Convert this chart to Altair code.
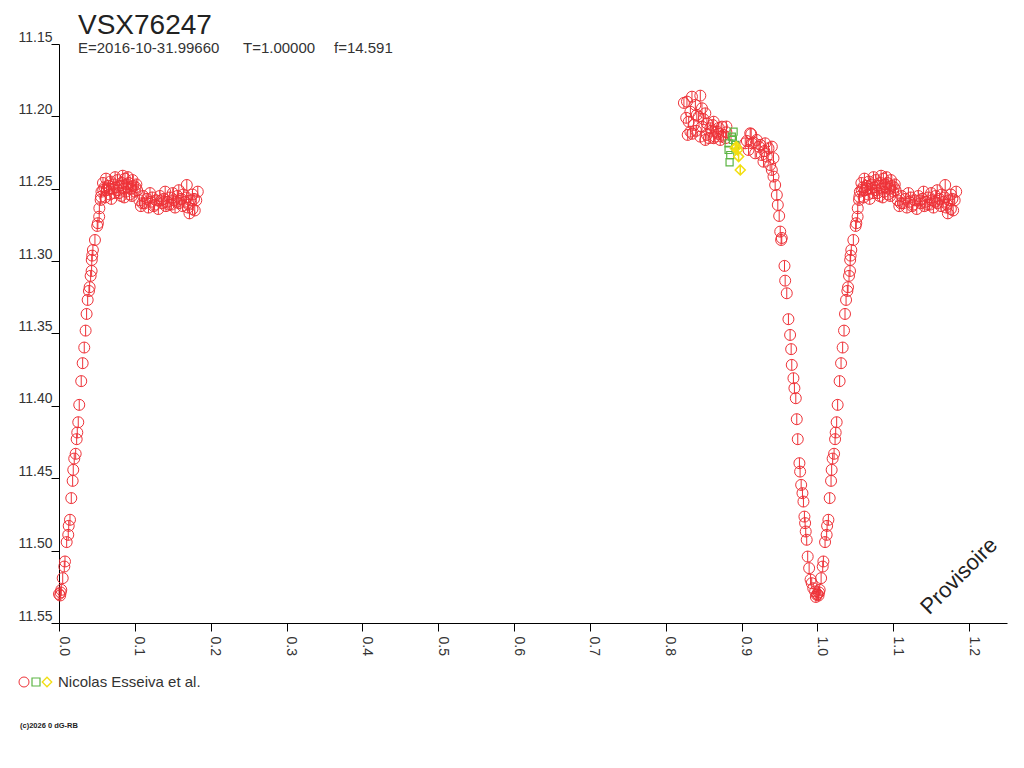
import altair as alt
import pandas as pd

# ---- data (phase, magnitude) ----
red_phase = [
    # ascending branch after minimum
    0.0000, 0.0015, 0.0022, 0.0030, 0.0049, 0.0070, 0.0079, 0.0101, 0.0122, 0.0128,
    0.0145, 0.0162, 0.0180, 0.0188, 0.0201, 0.0220, 0.0233, 0.0241, 0.0254, 0.0267,
    0.0293, 0.0312, 0.0333, 0.0351, 0.0364, 0.0378, 0.0395, 0.0404, 0.0417, 0.0430,
    0.0432, 0.0438, 0.0447, 0.0474, 0.0504, 0.0513, 0.0530, 0.0532, 0.0549, 0.0553,
    0.0583,
    # first plateau
    0.056, 0.058, 0.060, 0.062, 0.063, 0.065, 0.067, 0.068, 0.070, 0.072,
    0.073, 0.075, 0.077, 0.078, 0.080, 0.082, 0.083, 0.085, 0.087, 0.088,
    0.090, 0.092, 0.093, 0.095, 0.097, 0.098, 0.100, 0.102, 0.103, 0.061,
    0.069, 0.079, 0.086, 0.091, 0.096, 0.084, 0.074, 0.066, 0.089, 0.101,
    # second plateau
    0.106, 0.108, 0.111, 0.113, 0.116, 0.118, 0.121, 0.123, 0.126, 0.128,
    0.131, 0.133, 0.136, 0.138, 0.141, 0.143, 0.146, 0.148, 0.151, 0.153,
    0.156, 0.158, 0.161, 0.163, 0.166, 0.168, 0.171, 0.173, 0.176, 0.178,
    0.1685, 0.150, 0.172, 0.179, 0.183, 0.176, 0.140, 0.120, 0.164, 0.158,
    0.110, 0.125, 0.135, 0.145, 0.155, 0.170, 0.181,
    # maximum before the eclipse
    0.8240, 0.8280, 0.8290, 0.8346, 0.8456, 0.8325, 0.8391, 0.8478, 0.8522, 0.8434,
    0.8303, 0.8368, 0.8325, 0.8478, 0.8543, 0.8588, 0.8632, 0.8675, 0.8741, 0.8763,
    0.8543, 0.8456, 0.8632, 0.8719, 0.8522, 0.8410, 0.8500, 0.8600, 0.8700, 0.8800,
    0.8790, 0.8650, 0.8570, 0.8400, 0.8350, 0.8800, 0.8740, 0.8270, 0.8620, 0.8690,
    0.9114, 0.9049, 0.9136, 0.9201, 0.9246, 0.9311, 0.9355, 0.9399, 0.9092, 0.9180,
    0.9267, 0.9333, 0.9421, 0.9289, 0.9377, 0.9127, 0.9160, 0.9230, 0.9300, 0.9070,
    # descending branch
    0.9399, 0.9421, 0.9443, 0.9465, 0.9478, 0.9496, 0.9510, 0.9522, 0.9530, 0.9566,
    0.9575, 0.9596, 0.9618, 0.9640, 0.9654, 0.9662, 0.9684, 0.9697, 0.9715, 0.9728,
    0.9741, 0.9763, 0.9772, 0.9786, 0.9803, 0.9816, 0.9829, 0.9838, 0.9846, 0.9859,
    0.9872, 0.9891, 0.9910, 0.9925, 0.9945, 0.9970, 0.9991, 0.9980,
]
red_mag = [
    11.5300, 11.5310, 11.5289, 11.5271, 11.5190, 11.5110, 11.5075, 11.4941, 11.4891, 11.4829,
    11.4787, 11.4637, 11.4518, 11.4442, 11.4364, 11.4331, 11.4230, 11.4184, 11.4113, 11.3993,
    11.3829, 11.3705, 11.3597, 11.3480, 11.3365, 11.3268, 11.3206, 11.3180, 11.3102, 11.3068,
    11.2992, 11.2962, 11.2923, 11.2854, 11.2757, 11.2738, 11.2693, 11.2635, 11.2577, 11.2555,
    11.2508,
    11.252, 11.246, 11.249, 11.243, 11.251, 11.248, 11.254, 11.245, 11.250, 11.247,
    11.253, 11.249, 11.244, 11.251, 11.248, 11.255, 11.246, 11.250, 11.243, 11.252,
    11.249, 11.246, 11.254, 11.250, 11.244, 11.248, 11.252, 11.247, 11.251, 11.256,
    11.257, 11.253, 11.256, 11.242, 11.255, 11.241, 11.242, 11.250, 11.247, 11.249,
    11.258, 11.262, 11.255, 11.260, 11.257, 11.263, 11.259, 11.256, 11.261, 11.258,
    11.264, 11.255, 11.260, 11.257, 11.262, 11.259, 11.256, 11.261, 11.258, 11.263,
    11.255, 11.260, 11.257, 11.262, 11.259, 11.256, 11.261, 11.258, 11.264, 11.257,
    11.2474, 11.253, 11.267, 11.265, 11.252, 11.254, 11.252, 11.253, 11.254, 11.251,
    11.260, 11.262, 11.258, 11.261, 11.259, 11.263, 11.258,
    11.1907, 11.1898, 11.2128, 11.1864, 11.1857, 11.1968, 11.1921, 11.1944, 11.1979, 11.2002,
    11.2037, 11.2059, 11.2106, 11.2071, 11.2048, 11.2082, 11.2037, 11.2106, 11.2071, 11.2128,
    11.2128, 11.2140, 11.2151, 11.2163, 11.2163, 11.1990, 11.2020, 11.2100, 11.2080, 11.2110,
    11.2150, 11.2140, 11.2150, 11.2100, 11.2120, 11.2070, 11.2140, 11.2010, 11.2060, 11.2120,
    11.2117, 11.2186, 11.2186, 11.2163, 11.2197, 11.2186, 11.2220, 11.2209, 11.2232, 11.2255,
    11.2267, 11.2278, 11.2289, 11.2313, 11.2336, 11.2122, 11.2180, 11.2210, 11.2240, 11.2170,
    11.2370, 11.2416, 11.2474, 11.2543, 11.2612, 11.2688, 11.2796, 11.2854, 11.2840, 11.3033,
    11.3135, 11.3222, 11.3401, 11.3510, 11.3608, 11.3717, 11.3809, 11.3878, 11.3947, 11.4092,
    11.4230, 11.4396, 11.4454, 11.4546, 11.4603, 11.4661, 11.4765, 11.4810, 11.4868, 11.4925,
    11.5041, 11.5121, 11.5200, 11.5225, 11.5260, 11.5282, 11.5305, 11.5320,
]

green_phase = [0.8895, 0.8872, 0.8885, 0.8829, 0.8917, 0.8829, 0.8851, 0.8842]
green_mag = [11.2106, 11.2140, 11.2163, 11.2186, 11.2197, 11.2232, 11.2267, 11.2317]

yellow_phase = [0.8930, 0.8947, 0.8961, 0.8983, 0.8917]
yellow_mag = [11.2209, 11.2232, 11.2278, 11.2370, 11.2220]

x_ticks = [round(i * 0.05, 2) for i in range(0, 26)]
y_ticks = [round(11.15 + i * 0.05, 2) for i in range(0, 9)]

RED = "#ee3238"
GREEN = "#5cb544"
YELLOW = "#f2de10"
FONT = "Liberation Sans"

red = pd.DataFrame({"phase": red_phase, "mag": red_mag})
red_rep = red[red["phase"] < 0.25].copy()
red_rep["phase"] = red_rep["phase"] + 1.0
red_all = pd.concat([red, red_rep], ignore_index=True)
green = pd.DataFrame({"phase": green_phase, "mag": green_mag})
yellow = pd.DataFrame({"phase": yellow_phase, "mag": yellow_mag})

circle_bar = "M-1,0 A1,1 0 1,0 1,0 A1,1 0 1,0 -1,0 M0,-1 L0,1"
diamond_bar = "M0,-1 L1,0 L0,1 L-1,0 Z M0,-1 L0,1"

xs = alt.X("phase:Q", scale=alt.Scale(domain=[0, 1.25], nice=False, zero=False),
           axis=alt.Axis(values=x_ticks, title=None, labelAngle=90, labelAlign="left",
                         labelBaseline="alphabetic", tickSize=8, labelPadding=5,
                         labelExpr="round(datum.value*100) % 10 == 0 ? format(datum.value, '.1f') : ''",
                         labelFont=FONT, labelFontSize=14, labelColor="#333",
                         domainColor="black", tickColor="black", grid=False,
                         labelOverlap=False, labelFlush=False))
ys = alt.Y("mag:Q", scale=alt.Scale(domain=[11.15, 11.55], reverse=True, nice=False, zero=False),
           axis=alt.Axis(values=y_ticks, title=None, format=".2f", tickSize=8, labelPadding=-1,
                         labelBaseline="bottom", labelFont=FONT, labelFontSize=14,
                         labelColor="#333", domainColor="black", tickColor="black",
                         grid=False, labelOverlap=False, labelFlush=False))

red_layer = alt.Chart(red_all).mark_point(shape=circle_bar, size=121, filled=False,
                                          color=RED, strokeWidth=1, opacity=1).encode(x=xs, y=ys)
green_layer = alt.Chart(green).mark_point(shape="square", size=50, filled=False,
                                          color=GREEN, strokeWidth=1.2, opacity=1).encode(x="phase:Q", y="mag:Q")
yellow_layer = alt.Chart(yellow).mark_point(shape=diamond_bar, size=100, filled=False,
                                            color=YELLOW, strokeWidth=1.5, opacity=1).encode(x="phase:Q", y="mag:Q")

def label(text, x, y, size, color="#222", angle=0, align="left", baseline="alphabetic", weight="normal"):
    return alt.Chart(pd.DataFrame({"t": [text]})).mark_text(
        font=FONT, fontSize=size, color=color, angle=angle, align=align,
        baseline=baseline, fontWeight=weight
    ).encode(text="t:N", x=alt.value(x), y=alt.value(y))

texts = [
    label("VSX76247", 19, -10, 28),
    label("E=2016-10-31.99660", 19, 9, 15, "#333"),
    label("T=1.00000", 184, 9, 15, "#333"),
    label("f=14.591", 275, 9, 15, "#333"),
    label("Provisoire", 900, 532, 22, angle=315, align="center", baseline="middle"),
    label("Nicolas Esseiva et al.", -1, 643, 15, "#333"),
    label("(c)2026 0 dG-RB", -39, 684, 7.5, "#222", weight="bold"),
]

legend_marks = [
    alt.Chart(pd.DataFrame({"a": [0]})).mark_point(shape="circle", size=100, filled=False, color=RED,
                                                   strokeWidth=1, opacity=1).encode(x=alt.value(-35), y=alt.value(638)),
    alt.Chart(pd.DataFrame({"a": [0]})).mark_point(shape="square", size=64, filled=False, color=GREEN,
                                                   strokeWidth=1.2, opacity=1).encode(x=alt.value(-23), y=alt.value(638)),
    alt.Chart(pd.DataFrame({"a": [0]})).mark_point(shape="diamond", size=90, filled=False, color=YELLOW,
                                                   strokeWidth=1.3, opacity=1).encode(x=alt.value(-12), y=alt.value(638)),
]

chart = alt.layer(red_layer, green_layer, yellow_layer, *texts, *legend_marks).properties(
    width=948, height=579,
    autosize=alt.AutoSizeParams(type="none"),
    padding={"left": 51, "top": 36, "right": 9, "bottom": 120},
    background="white",
).configure_view(stroke=None)

chart.save("out.html", embed_options={"renderer": "svg", "actions": False})
